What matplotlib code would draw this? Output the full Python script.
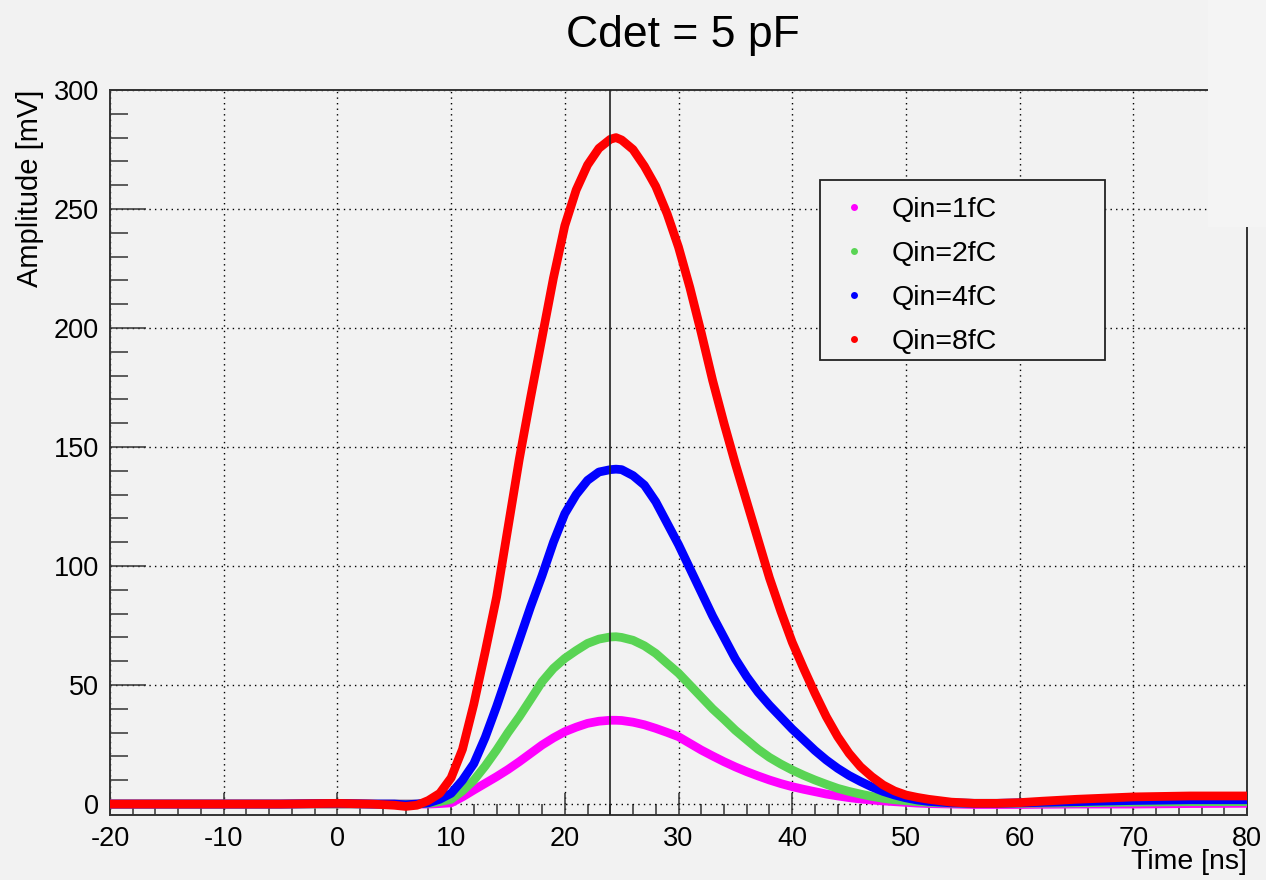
import matplotlib
matplotlib.use("Agg")
import matplotlib.pyplot as plt
from matplotlib.lines import Line2D
from matplotlib.patches import Rectangle
from matplotlib.ticker import MultipleLocator

plt.rcParams["font.family"] = ["Liberation Sans", "DejaVu Sans"]
plt.rcParams["axes.unicode_minus"] = False

time_ns = [-20, -15, -10, -5, 0, 3, 5, 6, 7,
           8, 9, 10, 11, 12, 13, 14, 15, 16, 17, 18, 19, 20, 21, 22, 23, 24,
           24.5,
           25, 26, 27, 28, 29, 30, 31, 32, 33, 34, 35, 36, 37, 38, 39, 40,
           41, 42, 43, 44, 45, 46, 47, 48, 49, 50, 51, 52,
           54, 56, 58, 60, 62, 65, 68, 70, 75, 80]

qin_8fC = [0, 0, 0, 0, 0.3, 0, -0.5, -1, -0.5,
           1.5, 4.5, 11, 23, 42, 64, 87, 116, 145, 171, 196, 221, 243, 258, 268.5, 275.5, 279.3,
           280,
           279, 275, 268, 259.5, 248, 234, 217, 198, 178, 160, 143, 127, 111, 95, 81, 68,
           57, 46.5, 36.7, 28.3, 21.3, 15.7, 11.5, 8, 5.5, 3.8, 2.8, 2,
           0.8, 0.3, 0.3, 0.6, 1.2, 2.0, 2.6, 3.0, 3.4, 3.4]

qin_4fC = [0, 0, 0, 0, 0.3, 0, 0, -0.3, 0,
           0.5, 2, 4.5, 10, 17, 28, 41, 55, 69, 83, 96, 110, 122, 130, 136, 139.5, 140.5,
           140.7,
           140.5, 138, 134, 127, 118, 109, 99, 89, 79, 70, 61, 53.5, 47, 41.5, 36.5, 31.5,
           27, 22.5, 18.5, 15, 12, 9.5, 7.2, 5.3, 3.8, 2.6, 1.7, 1.1,
           0.5, 0.3, 0.3, 0.5, 0.7, 1, 1.3, 1.5, 1.8, 1.8]

qin_2fC = [0, 0, 0, 0, 0, 0, 0, 0, 0,
           0.3, 1, 2, 5.5, 10, 16, 22.7, 30, 36.7, 44, 51.4, 57, 61.2, 64.5, 67.5, 69.3, 70.2,
           70.3,
           70, 68.8, 66.5, 63.3, 59.1, 55, 50, 45, 40, 35.6, 31, 27, 23, 19.6, 16.8, 14.3,
           12.1, 10.1, 8.3, 6.6, 5.3, 4.2, 3.2, 2.4, 1.8, 1.4, 1, 0.7,
           0.4, 0.3, 0.3, 0.3, 0.4, 0.5, 0.7, 0.8, 1, 1]

qin_1fC = [0, 0, 0, 0, 0, 0, 0, 0, 0,
           0, 0.2, 0.5, 3, 5.9, 8.7, 11.5, 14.5, 17.8, 21.3, 24.8, 27.8, 30.4, 32.3, 33.9, 34.8, 35.2,
           35.2,
           35.1, 34.4, 33.3, 31.8, 30.1, 28.3, 25.5, 22.7, 20.2, 17.8, 15.6, 13.6, 11.8, 10.1, 8.6, 7.3,
           6.2, 5.2, 4.2, 3.4, 2.7, 2.1, 1.7, 1.3, 1, 0.7, 0.4, 0.2,
           0, -0.2, -0.2, -0.2, -0.1, 0, 0, 0, 0.2, 0.3]

labels = ["Qin=1fC", "Qin=2fC", "Qin=4fC", "Qin=8fC"]
colors = ["#ff00ff", "#59d454", "#0000ff", "#ff0000"]
peak_time = 24

bg = "#f2f2f2"
fig = plt.figure(figsize=(12.66, 8.80), dpi=100, facecolor=bg)
ax = fig.add_axes([110 / 1266, 1 - 815 / 880, (1247 - 110) / 1266, (815 - 90) / 880])
ax.set_facecolor(bg)

for vals, col in zip([qin_1fC, qin_2fC, qin_4fC, qin_8fC], colors):
    ax.plot(time_ns, vals, color=col, lw=6.3, solid_capstyle="round",
            solid_joinstyle="round", zorder=3)

ax.axvline(peak_time, color="#222222", lw=1.2, zorder=5)

ax.set_xlim(-20, 80)
ax.set_ylim(-4.6, 300)
ax.xaxis.set_major_locator(MultipleLocator(10))
ax.xaxis.set_minor_locator(MultipleLocator(2))
ax.yaxis.set_major_locator(MultipleLocator(50))
ax.yaxis.set_minor_locator(MultipleLocator(10))
ax.tick_params(axis="both", which="both", direction="in", top=False, right=False,
               color="#333333", width=1.1, labelsize=19.5)
ax.tick_params(axis="x", which="major", length=16, pad=8)
ax.tick_params(axis="x", which="minor", length=8)
ax.tick_params(axis="y", which="major", length=26, pad=8)
ax.tick_params(axis="y", which="minor", length=13)
ax.grid(True, which="major", color="black", lw=1.0, linestyle=(0, (1, 3)))
for s in ax.spines.values():
    s.set_color("#333333")
    s.set_linewidth(1.4)

# legend frame drawn separately (wide right margin like the original)
fig.patches.append(Rectangle((820 / 1266, 1 - 360 / 880), 285 / 1266, 180 / 880,
                             transform=fig.transFigure, facecolor=bg,
                             edgecolor="#222222", lw=1.3, zorder=6))
handles = [Line2D([], [], ls="none", marker="o", ms=5, color=c, markeredgewidth=0)
           for c in colors]
leg = fig.legend(handles, labels, loc="upper left",
                 bbox_to_anchor=(820 / 1266, 1 - 180 / 880), bbox_transform=fig.transFigure,
                 fontsize=20.5, frameon=False, borderaxespad=0, handlelength=1.2,
                 handletextpad=0.7, labelspacing=0.63, borderpad=0.6)
leg.set_zorder(7)

fig.text(683 / 1266, 1 - 35 / 880, "Cdet = 5 pF", ha="center", va="center", fontsize=32)
fig.text(1247 / 1266, 1 - 862 / 880, "Time [ns]", ha="right", va="center", fontsize=20.5)
fig.text(30 / 1266, 1 - 90 / 880, "Amplitude [mV]", ha="center", va="top",
         rotation=90, fontsize=21)

# top-right corner of the original screenshot is blanked out
fig.patches.append(Rectangle((1208 / 1266, 1 - 227 / 880), 58 / 1266, 227 / 880,
                             transform=fig.transFigure, facecolor="#f4f4f4",
                             edgecolor="none", zorder=10))

fig.savefig("out.png", dpi=100, facecolor=bg)
